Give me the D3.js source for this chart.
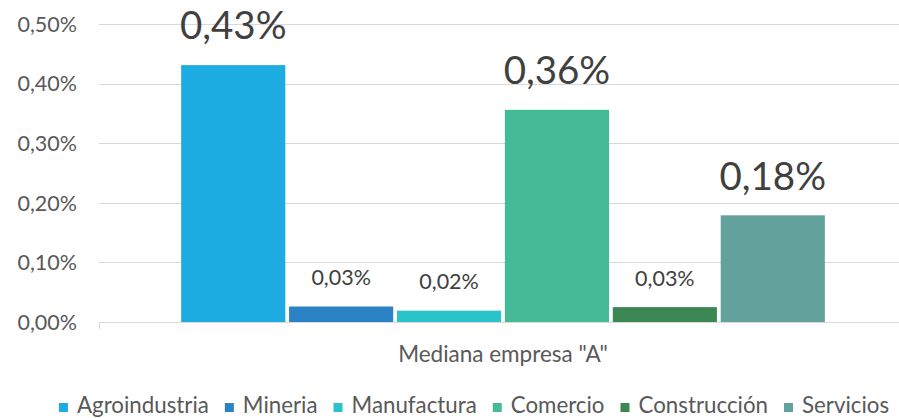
<!DOCTYPE html>
<html>
<head>
<meta charset="utf-8">
<script src="https://cdn.jsdelivr.net/npm/d3@7/dist/d3.min.js"></script>
<style>
  html, body { margin: 0; padding: 0; background: #fff; }
  svg { display: block; font-family: Lato, "Open Sans", sans-serif; }
</style>
</head>
<body>
<svg id="chart" width="899" height="418"></svg>
<script>
// Participación por sector, mediana empresa "A" (valores en %)
const categories = ['Mediana empresa "A"'];
const sectors = ["Agroindustria", "Mineria", "Manufactura", "Comercio", "Construcción", "Servicios"];
const values = [0.431, 0.026, 0.019, 0.356, 0.025, 0.179];
const colors = ["#1dace2", "#2b83c6", "#29c3ca", "#44bb96", "#3c8754", "#62a19c"];
const yTicks = [0, 0.1, 0.2, 0.3, 0.4, 0.5];

const svg = d3.select("#chart");
const margin = { left: 99, right: -8, top: 24, bottom: 96 };
const W = 899, H = 418;
const plotRight = W - margin.right;
const baseY = H - margin.bottom;

const fmt = v => d3.format(".2f")(v).replace(".", ",") + "%";
const bigLabel = v => v >= 0.1;

const y = d3.scaleLinear().domain([0, 0.5]).range([baseY, margin.top]);

const x0 = d3.scaleBand().domain(categories)
  .range([margin.left, plotRight]).paddingInner(0).paddingOuter(0.124);
const x1 = d3.scaleBand().domain(sectors)
  .range([0, x0.bandwidth()]).paddingInner(0.035).paddingOuter(0.0175);

// gridlines
svg.append("g").selectAll("line").data(yTicks.slice(1)).join("line")
  .attr("x1", margin.left).attr("x2", plotRight)
  .attr("y1", d => Math.round(y(d)) + 0.5).attr("y2", d => Math.round(y(d)) + 0.5)
  .attr("stroke", "#d9d9d9").attr("stroke-width", 1);

// y axis labels
svg.append("g").selectAll("text").data(yTicks).join("text")
  .attr("x", 77).attr("y", d => y(d))
  .attr("dy", "0.36em")
  .attr("text-anchor", "end")
  .attr("font-size", 21.5).attr("fill", "#595959")
  .text(d => fmt(d));

// bars
const g = svg.append("g");
categories.forEach(cat => {
  const gx = x0(cat);
  g.selectAll(null).data(sectors).join("rect")
    .attr("x", d => gx + x1(d))
    .attr("width", x1.bandwidth())
    .attr("y", (d, i) => y(values[i]))
    .attr("height", (d, i) => baseY - y(values[i]))
    .attr("fill", (d, i) => colors[i]);

  // data labels
  g.selectAll(null).data(sectors).join("text")
    .attr("x", d => gx + x1(d) + x1.bandwidth() / 2)
    .attr("y", (d, i) => {
      const fs = bigLabel(values[i]) ? 38.5 : 21.5;
      return y(values[i]) - (16 + 0.25 * fs);
    })
    .attr("text-anchor", "middle")
    .attr("font-size", (d, i) => bigLabel(values[i]) ? 38.5 : 21.5)
    .attr("fill", "#404040")
    .text((d, i) => fmt(values[i]));
});

// category axis
svg.append("line")
  .attr("x1", margin.left).attr("x2", plotRight)
  .attr("y1", baseY + 0.5).attr("y2", baseY + 0.5)
  .attr("stroke", "#d9d9d9");
svg.selectAll(".tick-mark").data([margin.left, plotRight]).join("line")
  .attr("x1", d => d + 0.5).attr("x2", d => d + 0.5)
  .attr("y1", baseY).attr("y2", baseY + 7)
  .attr("stroke", "#d9d9d9");

svg.selectAll(".cat-label").data(categories).join("text")
  .attr("x", d => x0(d) + x0.bandwidth() / 2)
  .attr("y", 362)
  .attr("text-anchor", "middle")
  .attr("font-size", 22.5).attr("fill", "#595959")
  .text(d => d);

// legend
const legend = svg.append("g");
const items = legend.selectAll("g").data(sectors).join("g");
items.append("rect").attr("width", 9).attr("height", 9).attr("y", -10)
  .attr("fill", (d, i) => colors[i]);
items.append("text").attr("x", 18).attr("y", 0)
  .attr("font-size", 22.3).attr("fill", "#595959")
  .text(d => d);
let cx = 0;
items.each(function () {
  const w = 18 + d3.select(this).select("text").node().getComputedTextLength();
  d3.select(this).attr("transform", `translate(${cx},0)`);
  cx += w + 16;
});
const total = cx - 16;
legend.attr("transform", `translate(${474 - total / 2},413)`);
</script>
</body>
</html>
